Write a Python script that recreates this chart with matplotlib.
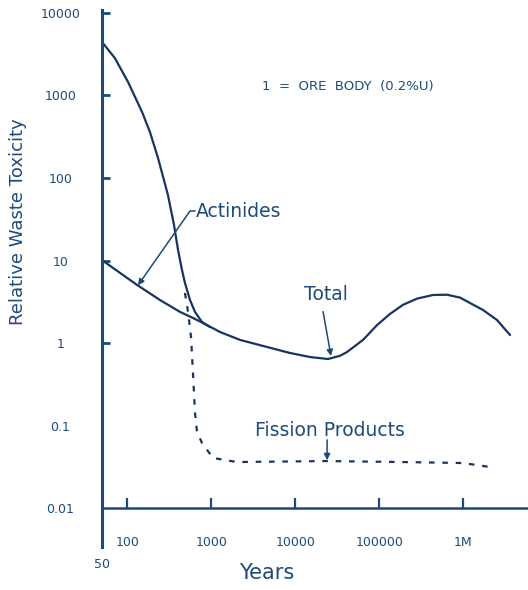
import numpy as np
import matplotlib
matplotlib.use("Agg")
import matplotlib.pyplot as plt
from matplotlib.ticker import NullLocator

# values (years, relative toxicity)
total_years = [50, 71, 102, 150, 186, 232, 305, 360, 402, 448, 486, 558,
               640, 775, 966]
total_tox = [4450, 2850, 1460, 630, 361, 175, 62, 26.9, 13.4, 7.67, 5.34,
             3.32, 2.38, 1.80, 1.56]

actinide_years = [50, 131, 245, 425, 605, 796, 1270, 2200, 4600, 8650,
                  15000, 24500, 34000, 41300, 64000, 94000, 134000, 191000,
                  281000, 436000, 640000, 914000, 1.72e6, 2.52e6, 3.6e6]
actinide_tox = [10.1, 5.05, 3.32, 2.38, 2.01, 1.75, 1.36, 1.09, 0.895, 0.757,
                0.676, 0.64, 0.70, 0.778, 1.09, 1.65, 2.25, 2.9,
                3.45, 3.82, 3.85, 3.55, 2.51, 1.9, 1.25]

fission_years = [486, 514, 543, 574, 605, 640, 676, 775, 1050, 2020, 23900,
                 191000, 993000, 2.08e6]
fission_tox = [4.04, 2.89, 1.9, 1.18, 0.433, 0.142, 0.0834, 0.0614, 0.0404,
               0.0361, 0.0371, 0.0361, 0.0351, 0.0314]

ytick_vals = [10000, 1000, 100, 10, 1, 0.1, 0.01]
ytick_labels = ["10000", "1000", "100", "10", "1", "0.1", "0.01"]
xtick_vals = [100, 1000, 10000, 100000, 1e6]
xtick_labels = ["100", "1000", "10000", "100000", "1M"]

line_col = "#17355f"
text_col = "#1d4b7b"
axis_col = "#1c4a78"

plt.rcParams['font.family'] = ['DejaVu Sans']

fig = plt.figure(figsize=(5.28, 5.90), dpi=100)
ax = fig.add_axes([102/528, 43/590, 1 - 102/528, 537/590])

ax.plot(total_years, total_tox, color=line_col, lw=1.6, solid_capstyle='round')
ax.plot(actinide_years, actinide_tox, color=line_col, lw=1.6, solid_capstyle='round')
ax.plot(fission_years, fission_tox, color=line_col, lw=1.6, ls=(0, (2.5, 3.5)))

ax.set_xscale('log')
ax.set_yscale('log')
ax.set_xlim(50, 5.89e6)
ax.set_ylim(0.00337, 10870)
ax.xaxis.set_minor_locator(NullLocator())
ax.yaxis.set_minor_locator(NullLocator())

for s in ['top', 'right']:
    ax.spines[s].set_visible(False)
ax.spines['bottom'].set_position(('data', 0.01))
ax.spines['left'].set_color(axis_col)
ax.spines['left'].set_linewidth(2.2)
ax.spines['bottom'].set_color(axis_col)
ax.spines['bottom'].set_linewidth(1.8)

ax.set_yticks(ytick_vals)
ax.set_yticklabels(ytick_labels)
ax.set_xticks(xtick_vals)
ax.set_xticklabels(xtick_labels)
ax.tick_params(axis='y', direction='in', length=6, width=2, color=axis_col,
               pad=30, labelsize=9, labelcolor=text_col)
ax.tick_params(axis='x', direction='in', length=7, width=1.6, color=axis_col,
               pad=20, labelsize=9, labelcolor=text_col)
for lab in ax.get_yticklabels():
    lab.set_horizontalalignment('center')
for t in ax.yaxis.get_major_ticks()[5:]:
    t.tick1line.set_visible(False)

ax.text(50, 0.00205, "50", ha='center', va='center', fontsize=9,
        color=text_col, clip_on=False)

ax.set_xlabel("Years", fontsize=15, color=text_col)
ax.xaxis.set_label_coords(0.387, -0.048)
ax.xaxis.label.set_va('center')
ax.set_ylabel("Relative Waste Toxicity", fontsize=13, color=text_col)
ax.yaxis.set_label_coords(-0.197, 0.605)
ax.yaxis.label.set_va('center')

ax.text(42500, 1300, "1  =  ORE  BODY  (0.2%U)", ha='center', va='center',
        fontsize=9.5, color=text_col)

arrow = dict(arrowstyle='-|>', color=axis_col, lw=1.1, mutation_scale=9,
             shrinkA=0, shrinkB=0)

ax.text(660, 39, "Actinides", ha='left', va='center', fontsize=13.5,
        color=text_col)
ax.annotate("", xy=(134, 5.0), xytext=(640, 39.8),
            arrowprops=dict(arrow, connectionstyle="arc,angleA=180,armA=5,angleB=57,armB=0,rad=0"))

ax.text(23000, 3.82, "Total", ha='center', va='center', fontsize=13.5,
        color=text_col)
ax.annotate("", xy=(26600, 0.695), xytext=(21400, 2.4), arrowprops=arrow)

ax.text(3310, 0.088, "Fission Products", ha='left', va='center',
        fontsize=13.5, color=text_col)
ax.annotate("", xy=(23900, 0.038), xytext=(23900, 0.067), arrowprops=arrow)

fig.savefig("out.png", dpi=100)
